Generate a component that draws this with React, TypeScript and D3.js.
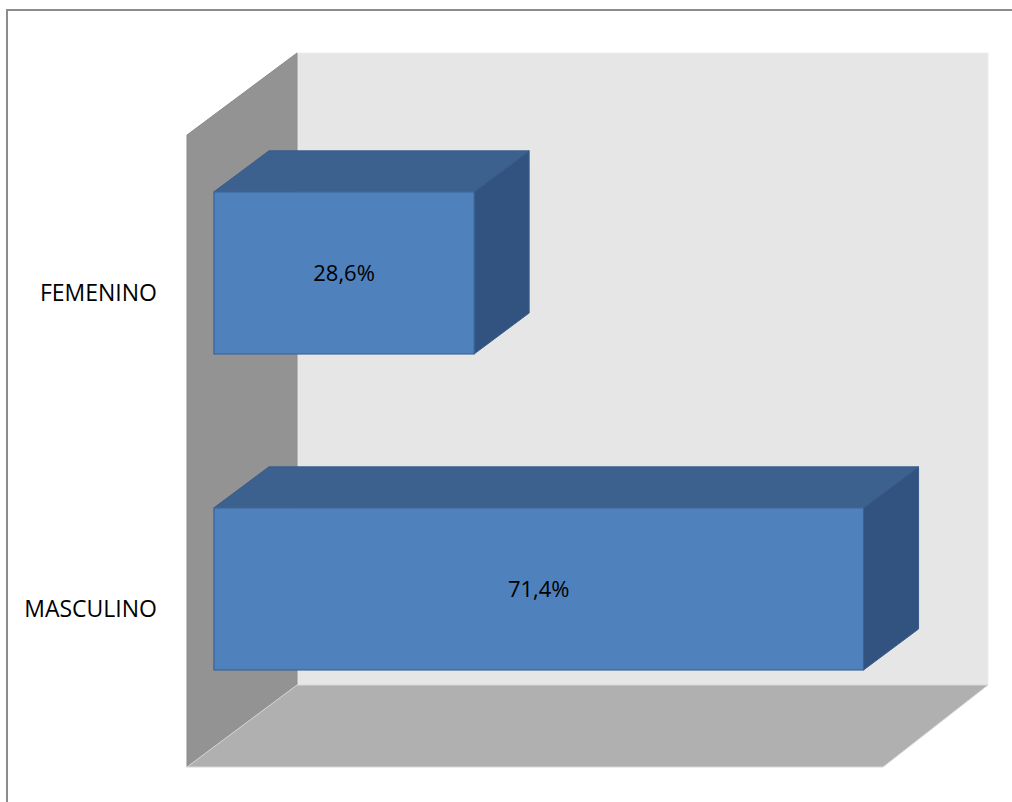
import React from "react";
import * as d3 from "d3";

const categories = ["FEMENINO", "MASCULINO"];
const values = [28.6, 71.4];
const valueLabels = ["28,6%", "71,4%"];
const axisMax = 76.5;

const W = 1012;
const H = 802;

// front plane of the plot area
const left = 187;
const right = 883;
const top = 135;
const bottom = 767;
// depth of the 3D box
const DX = 110;
const DY = 82;
const DXR = 105; // depth offset at the right edge (slight perspective)
// bar depth fractions
const d0 = 0.245;
const d1 = 0.745;

const pts = (arr: [number, number][]) => arr.map((p) => p.join(",")).join(" ");

export default function App() {
  const x = d3.scaleLinear().domain([0, axisMax]).range([left, right]);
  const y = d3
    .scaleBand<string>()
    .domain(categories)
    .range([top, bottom])
    .paddingInner(0.487)
    .paddingOuter(0.2435);

  const fx = d0 * DX;
  const fy = d0 * DY;
  const bx = (d1 - d0) * DX;
  const by = (d1 - d0) * DY;

  return (
    <svg
      width={W}
      height={H}
      style={{ position: "absolute", left: 0, top: 0, background: "#fff" }}
      fontFamily="'Open Sans', sans-serif"
    >
      <rect x={7} y={10} width={1010} height={800} fill="#fff" stroke="#8c8c8c" strokeWidth={2} />
      {/* back wall */}
      <polygon
        points={pts([
          [left + DX, top - DY],
          [right + DXR, top - DY],
          [right + DXR, bottom - DY],
          [left + DX, bottom - DY],
        ])}
        fill="#e6e6e6"
        stroke="#eeeeee"
        strokeWidth={1}
      />
      {/* side wall */}
      <polygon
        points={pts([
          [left, top],
          [left + DX, top - DY],
          [left + DX, bottom - DY],
          [left, bottom],
        ])}
        fill="#939393"
        stroke="#8a8a8a"
        strokeWidth={1}
      />
      {/* floor */}
      <polygon
        points={pts([
          [left, bottom],
          [left + DX, bottom - DY],
          [right + DXR, bottom - DY],
          [right, bottom],
        ])}
        fill="#b0b0b0"
        stroke="#d6d6d6"
        strokeWidth={1}
      />
      {categories.map((c, i) => {
        const x0 = x(0) + fx;
        const x1 = x(values[i]) + fx;
        const y0 = (y(c) as number) - fy;
        const y1 = y0 + y.bandwidth();
        return (
          <g key={c}>
            <polygon
              points={pts([
                [x0, y0],
                [x0 + bx, y0 - by],
                [x1 + bx, y0 - by],
                [x1, y0],
              ])}
              fill="#3c618f"
              stroke="#385d8a"
              strokeWidth={1}
            />
            <polygon
              points={pts([
                [x1, y0],
                [x1 + bx, y0 - by],
                [x1 + bx, y1 - by],
                [x1, y1],
              ])}
              fill="#325380"
              stroke="#385d8a"
              strokeWidth={1}
            />
            <rect
              x={x0}
              y={y0}
              width={x1 - x0}
              height={y1 - y0}
              fill="#4f81bd"
              stroke="#3a6394"
              strokeWidth={1.2}
            />
            <text
              x={(x0 + x1) / 2}
              y={(y0 + y1) / 2}
              dy="0.36em"
              textAnchor="middle"
              fontSize={22}
              fill="#000"
            >
              {valueLabels[i]}
            </text>
            <text
              x={157}
              y={(y(c) as number) + y.bandwidth() / 2}
              dy="0.36em"
              textAnchor="end"
              fontSize={23}
              fill="#000"
            >
              {c}
            </text>
          </g>
        );
      })}
    </svg>
  );
}
